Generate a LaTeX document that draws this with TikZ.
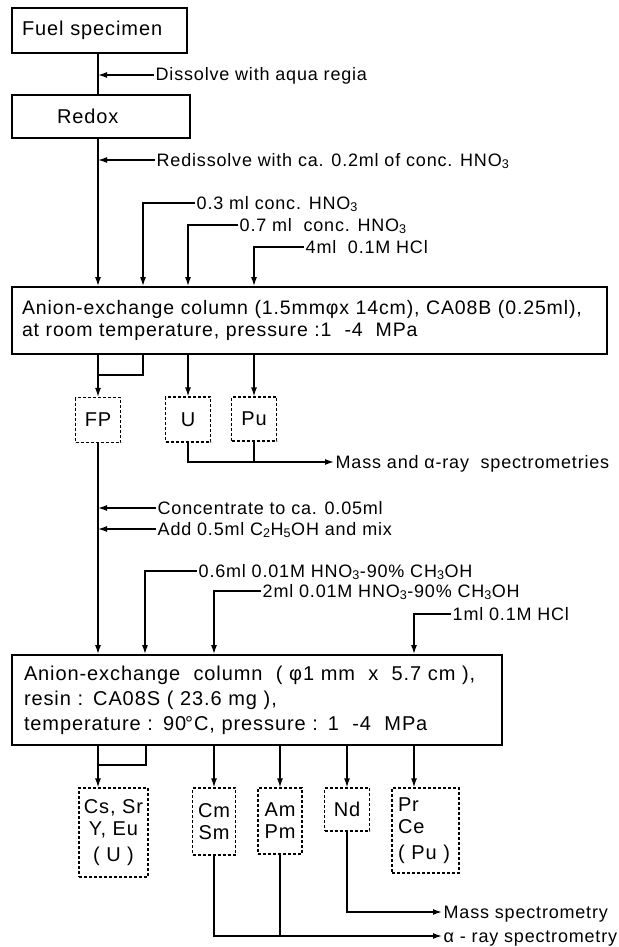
\documentclass[tikz,border=0pt]{standalone}
\usepackage{fontspec}
\setmainfont{Liberation Sans}[LetterSpace=4.5]
\usetikzlibrary{arrows.meta,calc}
\newcommand{\sbs}[1]{\textsubscript{#1}}
\begin{document}
\begin{tikzpicture}[x=1pt,y=-1pt,
  line/.style={line width=1.4pt},
  arr/.style={line width=1.4pt,-{Latex[length=9pt,width=6pt]}},
  sbox/.style={draw,line width=1.8pt,inner ysep=0pt,align=left,font=\fontsize{20}{22}\selectfont},
  dbox/.style={draw,line width=1.2pt,dash pattern=on 3pt off 2pt,inner sep=0pt,align=center,font=\fontsize{20}{22}\selectfont},
  lab/.style={anchor=west,inner xsep=1.5pt,inner ysep=0pt,text height=12pt,text depth=0pt,font=\fontsize{18}{20}\selectfont}]
\useasboundingbox[fill=white] (0,0) rectangle (618,947);

% x positions of the vertical lines
\coordinate (m) at (98,0);
\coordinate (a) at (143,0);
\coordinate (b) at (188,0);
\coordinate (c) at (254,0);
\coordinate (d) at (145,0);
\coordinate (d2) at (146,0);
\coordinate (e) at (214,0);
\coordinate (f) at (414,0);
\coordinate (g) at (280,0);
\coordinate (h) at (347,0);
\coordinate (j1) at (98,375);
\coordinate (j2) at (98,765);

% solid boxes
\node[sbox,minimum width=175pt,minimum height=45pt,text width=155pt,inner xsep=10pt] (fuel) at (99.5,30.5) {Fuel specimen};
\node[sbox,minimum width=178pt,minimum height=43pt,text width=88pt,inner xsep=45pt] (redox) at (101,116.5) {Redox};
\node[sbox,minimum width=595pt,minimum height=67pt,text width=575pt,inner xsep=10pt,
  font=\fontsize{19.5}{22}\selectfont] (box1) at (309.5,320.5)
  {Anion-exchange column (1.5mmφx 14cm), CA08B (0.25ml),\\at room temperature, pressure :1\ \ -4\ \ MPa};
\node[sbox,minimum width=490pt,minimum height=90pt,text width=466pt,inner xsep=12pt,
  font=\fontsize{20}{25}\selectfont] (box2) at (257,700)
  {Anion-exchange\ \ column\ \ ( φ1 mm\ \ x\ \ 5.7 cm ),\\resin : CA08S ( 23.6 mg ),\\temperature : 90\kern-0.05em°C, pressure : 1\ \ -4\ \ MPa};

% dashed boxes
\node[dbox,minimum width=45pt,minimum height=45pt] (fp) at (98,420) {FP};
\node[dbox,minimum width=45pt,minimum height=45pt] (u) at (188,419.5) {U};
\node[dbox,minimum width=45pt,minimum height=44pt] (pu) at (254,419) {Pu};
\node[dbox,minimum width=69pt,minimum height=89pt] (cs) at (113.5,832.5) {Cs, Sr\\Y, Eu\\[4pt]( U )};
\node[dbox,minimum width=43pt,minimum height=67pt] (cm) at (214,821.5) {Cm\\Sm};
\node[dbox,minimum width=44pt,minimum height=66pt] (am) at (280,821) {Am\\Pm};
\node[dbox,minimum width=45pt,minimum height=43pt] (nd) at (347,809.5) {Nd};
\node[dbox,minimum width=67pt,minimum height=85pt,text width=55pt,inner xsep=6pt,align=left] (pr) at (425.5,830.5) {Pr\\Ce\\[4pt]( Pu )};

% labels
\node[lab] (dis) at (154,75) {Dissolve with aqua regia};
\node[lab] (redis) at (155,160) {Redissolve with ca. 0.2ml of conc. HNO\sbs{3}};
\node[lab] (t03) at (195,203) {0.3 ml conc. HNO\sbs{3}};
\node[lab] (t07) at (238,225) {0.7 ml\ \ conc. HNO\sbs{3}};
\node[lab] (t4) at (304,247) {4ml\ \ 0.1M\ HCl};
\node[lab] (mass) at (334,462) {Mass and α-ray\ \ spectrometries};
\node[lab] (conc) at (156,508) {Concentrate to ca. 0.05ml};
\node[lab] (add) at (156,529) {Add 0.5ml C\sbs{2}H\sbs{5}OH and mix};
\node[lab] (t06) at (197,571) {0.6ml 0.01M HNO\sbs{3}-90\% CH\sbs{3}OH};
\node[lab] (t2) at (261,591) {2ml 0.01M HNO\sbs{3}-90\% CH\sbs{3}OH};
\node[lab] (t1) at (451,614) {1ml 0.1M HCl};
\node[lab] (ms) at (442,912) {Mass spectrometry};
\node[lab] (ar) at (442,936) {α - ray spectrometry};

% upper part
\draw[line] (fuel.south -| m) -- (redox.north -| m);
\draw[arr] (dis.west) -- (dis.west -| m);
\draw[arr] (redox.south -| m) -- (box1.north -| m);
\draw[arr] (redis.west) -- (redis.west -| m);
\draw[arr] (t03.west) -| (box1.north -| a);
\draw[arr] (t07.west) -| (box1.north -| b);
\draw[arr] (t4.west) -| (box1.north -| c);
\draw[line] (box1.south -| a) |- (j1);
\draw[arr] (box1.south -| m) -- (fp.north);
\draw[arr] (box1.south -| b) -- (u.north);
\draw[arr] (box1.south -| c) -- (pu.north);
\draw[arr] (u.south) |- (mass.west);
\draw[line] (pu.south) -- (pu.south |- mass.west);

% middle part
\draw[arr] (fp.south) -- (box2.north -| m);
\draw[arr] (conc.west) -- (conc.west -| m);
\draw[arr] (add.west) -- (add.west -| m);
\draw[arr] (t06.west) -| (box2.north -| d);
\draw[arr] (t2.west) -| (box2.north -| e);
\draw[arr] (t1.west) -| (box2.north -| f);

% lower part
\draw[line] (box2.south -| d2) |- (j2);
\draw[arr] (box2.south -| m) -- (cs.north -| m);
\draw[arr] (box2.south -| e) -- (cm.north);
\draw[arr] (box2.south -| g) -- (am.north);
\draw[arr] (box2.south -| h) -- (nd.north);
\draw[arr] (box2.south -| f) -- (pr.north -| f);
\draw[arr] (nd.south) |- (ms.west);
\draw[arr] (cm.south) |- (ar.west);
\draw[line] (am.south) -- (am.south |- ar.west);
\end{tikzpicture}
\end{document}
